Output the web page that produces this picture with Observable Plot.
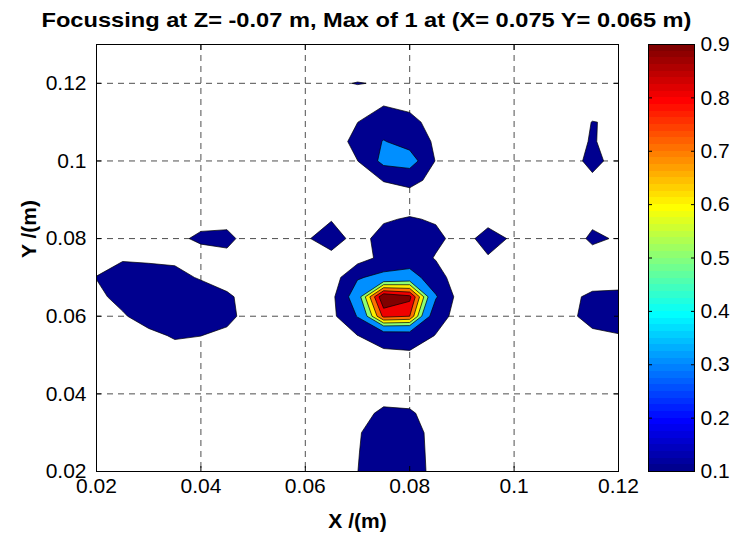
<!DOCTYPE html>
<html><head><meta charset="utf-8">
<script src="https://cdn.jsdelivr.net/npm/d3@7"></script>
<script src="https://cdn.jsdelivr.net/npm/@observablehq/plot@0.6"></script>
<style>
html,body{margin:0;padding:0;background:#fff;}
#wrap{position:relative;width:733px;height:533px;overflow:hidden;}
#wrap svg{position:absolute;top:0;}
</style></head><body><div id="wrap"></div>
<script>
const titleText = "Focussing at Z= -0.07 m, Max of 1 at (X= 0.075 Y= 0.065 m)";
const xLabel = "X /(m)";
const yLabel = "Y /(m)";
// grid sample positions (m)
const gridX = [0.02,0.025,0.03,0.035,0.04,0.045,0.05,0.055,0.06,0.065,0.07,0.075,0.08,0.085,0.09,0.095,0.1,0.105,0.11,0.115,0.12];
const gridY = [0.02,0.025,0.03,0.035,0.04,0.045,0.05,0.055,0.06,0.065,0.07,0.075,0.08,0.085,0.09,0.095,0.1,0.105,0.11,0.115,0.12,0.125,0.13];
const levels = [0.1,0.3,0.5,0.6,0.7,0.8,0.9];
const xTicks = [0.02,0.04,0.06,0.08,0.1,0.12];
const yTicks = [0.02,0.04,0.06,0.08,0.1,0.12];
const cbTicks = [0.1,0.2,0.3,0.4,0.5,0.6,0.7,0.8,0.9];
// normalised focussing values, rows from y=0.13 (top) down to y=0.02 (bottom), columns x=0.02..0.12
const valueRows = [
/*0.130*/[.03,.03,.03,.03,.03,.03,.03,.03,.03,.03,.03,.03,.03,.03,.03,.03,.03,.03,.03,.03,.03],
/*0.125*/[.03,.03,.03,.03,.03,.03,.03,.03,.03,.03,.03,.03,.03,.03,.03,.03,.03,.03,.03,.03,.03],
/*0.120*/[.03,.03,.03,.03,.03,.03,.03,.03,.03,.08,.105,.09,.03,.03,.03,.03,.03,.03,.03,.03,.03],
/*0.115*/[.03,.03,.03,.03,.03,.03,.03,.03,.03,.03,.03,.08,.05,.03,.03,.03,.03,.03,.03,0,.03],
/*0.110*/[.03,.03,.03,.03,.03,.03,.03,.03,.03,.03,.098,.2,.15,.035,.03,.03,.03,.03,0,.105,.079],
/*0.105*/[.03,.03,.03,.03,.03,.03,.03,.03,.03,0,.16,.31,.22,.072,.03,.03,.03,.03,0,.12,0],
/*0.100*/[.03,.03,.03,.03,.03,.03,.03,.03,.03,.03,.098,.36,.4,.09,.03,.03,.03,.03,0,.16,.02],
/*0.095*/[.03,.03,.03,.03,.03,.03,.03,.03,.03,.03,.03,.105,.14,.06,.03,.03,.03,.03,.03,.06,.03],
/*0.090*/[.03,.03,.03,.03,.03,.03,.03,.03,.03,.03,.03,.03,.035,.03,.03,.03,.03,.03,.03,.03,.03],
/*0.085*/[.03,.03,.03,.03,.032,.041,.03,.03,.03,.094,.05,.088,.11,.088,.03,.061,.03,.03,.03,.065,.03],
/*0.080*/[.03,.03,.03,.051,.14,.15,.003,.03,.087,.15,.06,.14,.16,.13,.05,.15,.08,.03,.01,.13,.083],
/*0.075*/[.03,.078,.07,.08,0,.048,.03,.03,.03,.068,.02,.15,.18,.09,.03,.09,.03,.03,.03,.036,.03],
/*0.070*/[.105,.2,.18,.13,.09,0,.03,.03,.03,0,.28,.36,.4,.17,0,.03,.03,.03,.03,0,.007],
/*0.065*/[.06,.155,.2,.18,.16,.137,0,.03,.03,.05,.43,1.0,.93,.32,0,.03,.03,.03,.045,.14,.15],
/*0.060*/[.03,.08,.185,.2,.19,.16,0,.03,.03,.05,.31,.83,.8,.15,.05,.03,.03,.03,.04,.18,.2],
/*0.055*/[.03,.03,.05,.12,.102,.05,.03,.03,.03,.03,.098,.17,.18,.095,.03,.03,.03,.03,.03,.053,.089],
/*0.050*/[.03,.03,.03,.02,.02,.03,.03,.03,.03,.03,.03,.065,.075,.03,.03,.03,.03,.03,.03,.03,.03],
/*0.045*/[.03,.03,.03,.03,.03,.03,.03,.03,.03,.03,.03,.03,.03,.03,.03,.03,.03,.03,.03,.03,.03],
/*0.040*/[.03,.03,.03,.03,.03,.03,.03,.03,.03,.03,.03,0,0,.03,.03,.03,.03,.03,.03,.03,.03],
/*0.035*/[.03,.03,.03,.03,.03,.03,.03,.03,.03,.03,.01,.15,.13,0,.03,.03,.03,.03,.03,.03,.03],
/*0.030*/[.03,.03,.03,.03,.03,.03,.03,.03,.03,.03,.082,.2,.2,.018,.03,.03,.03,.03,.03,.03,.03],
/*0.025*/[.03,.03,.03,.03,.03,.03,.03,.03,.03,.03,.09,.22,.2,.03,.03,.03,.03,.03,.03,.03,.03],
/*0.020*/[.03,.03,.03,.03,.03,.03,.03,.03,.03,.03,.098,.22,.2,.04,.03,.03,.03,.03,.03,.03,.03]
];

// MATLAB jet(64) colormap
function jetU(p){ if(p>=1&&p<=16) return p/16; if(p>=17&&p<=31) return 1; if(p>=32&&p<=47) return (48-p)/16; return 0; }
function jetRGB(k){ // k = 1..64
  const r = k>=25 ? jetU(k-24) : 0;
  const g = (k>=9&&k<=55) ? jetU(k-8) : 0;
  const b = k<=39 ? jetU(k+8) : 0;
  return `rgb(${Math.round(r*255)},${Math.round(g*255)},${Math.round(b*255)})`;
}
const jetInterp = t => jetRGB(Math.max(1, Math.min(64, Math.floor(t*64 + 1e-9) + 1)));

const values = valueRows.slice().reverse().flat();
const hx = (gridX[1]-gridX[0])/2, hy = (gridY[1]-gridY[0])/2;
const fmt = d3.format("~g");
const font = '"Liberation Sans", Arial, Helvetica, sans-serif';
const gridStyle = {stroke: "#222", strokeOpacity: 1, strokeWidth: 0.8, strokeDasharray: "6,5"};
const noText = () => "";

const main = Plot.plot({
  width: 733, height: 533,
  marginLeft: 96, marginRight: 115, marginTop: 44, marginBottom: 62,
  style: {fontFamily: font, fontSize: "21px", background: "white", overflow: "visible", color: "black"},
  x: {domain: [xTicks[0], xTicks[xTicks.length-1]]},
  y: {domain: [gridY[0], gridY[gridY.length-1]]},
  color: {type: "linear", domain: [levels[0], levels[levels.length-1]], interpolate: jetInterp},
  marks: [
    Plot.gridX(xTicks.slice(1, -1), gridStyle),
    Plot.gridY(yTicks.slice(1), gridStyle),
    Plot.contour(values, {
      width: gridX.length, height: gridY.length,
      x1: gridX[0]-hx, x2: gridX[gridX.length-1]+hx,
      y1: gridY[0]-hy, y2: gridY[gridY.length-1]+hy,
      fill: Plot.identity, thresholds: levels,
      stroke: "black", strokeWidth: 0.7, clip: true
    }),
    Plot.frame({stroke: "black", strokeWidth: 1}),
    Plot.axisX({ticks: xTicks, tickSize: 0, tickPadding: 7, tickFormat: fmt, fontSize: 21, label: null}),
    Plot.axisX({ticks: xTicks, anchor: "bottom", tickSize: -5, tickFormat: noText, label: null}),
    Plot.axisX({ticks: xTicks, anchor: "top", tickSize: -5, tickFormat: noText, label: null}),
    Plot.axisY({ticks: yTicks, tickSize: 0, tickPadding: 10, tickFormat: fmt, fontSize: 21, label: null}),
    Plot.axisY({ticks: yTicks, anchor: "left", tickSize: -5, tickFormat: noText, label: null}),
    Plot.axisY({ticks: yTicks, anchor: "right", tickSize: -5, tickFormat: noText, label: null}),
    Plot.text([titleText], {frameAnchor: "top", dy: -24, dx: 9, fontWeight: "bold", fontSize: 21, lineAnchor: "middle", className: "chart-title"}),
    Plot.text([xLabel], {frameAnchor: "bottom", dy: 50, fontWeight: "bold", fontSize: 21, lineAnchor: "middle"}),
    Plot.text([yLabel], {frameAnchor: "left", dx: -67, rotate: -90, fontWeight: "bold", fontSize: 21, lineAnchor: "middle"})
  ]
});
main.style.left = "0px";
// stretch the title to the reference's wider letter spacing
main.querySelectorAll("text").forEach(t => {
  if (t.textContent === titleText) { t.setAttribute("textLength", "650"); t.setAttribute("lengthAdjust", "spacingAndGlyphs"); }
});

const cbSteps = d3.range(64);
const cbLo = cbTicks[0], cbHi = cbTicks[cbTicks.length-1];
const cb = Plot.plot({
  width: 113, height: 533,
  marginLeft: 28, marginRight: 39, marginTop: 44, marginBottom: 62,
  style: {fontFamily: font, fontSize: "21px", background: "transparent", overflow: "visible", color: "black"},
  x: {domain: [0, 1], axis: null},
  y: {domain: [cbLo, cbHi]},
  marks: [
    Plot.rect(cbSteps, {x1: 0, x2: 1,
      y1: k => cbLo + k*(cbHi-cbLo)/64, y2: k => cbLo + (k+1)*(cbHi-cbLo)/64,
      fill: k => jetRGB(k+1), shapeRendering: "crispEdges"}),
    Plot.frame({stroke: "black", strokeWidth: 1}),
    Plot.axisY({anchor: "right", ticks: cbTicks, tickSize: 0, tickPadding: 6, tickFormat: fmt, fontSize: 21, label: null}),
    Plot.axisY({anchor: "right", ticks: cbTicks, tickSize: -4, tickFormat: noText, label: null}),
    Plot.axisY({anchor: "left", ticks: cbTicks, tickSize: -4, tickFormat: noText, label: null})
  ]
});
cb.style.left = "620px";

const wrap = document.getElementById("wrap");
wrap.appendChild(main);
wrap.appendChild(cb);
</script></body></html>
